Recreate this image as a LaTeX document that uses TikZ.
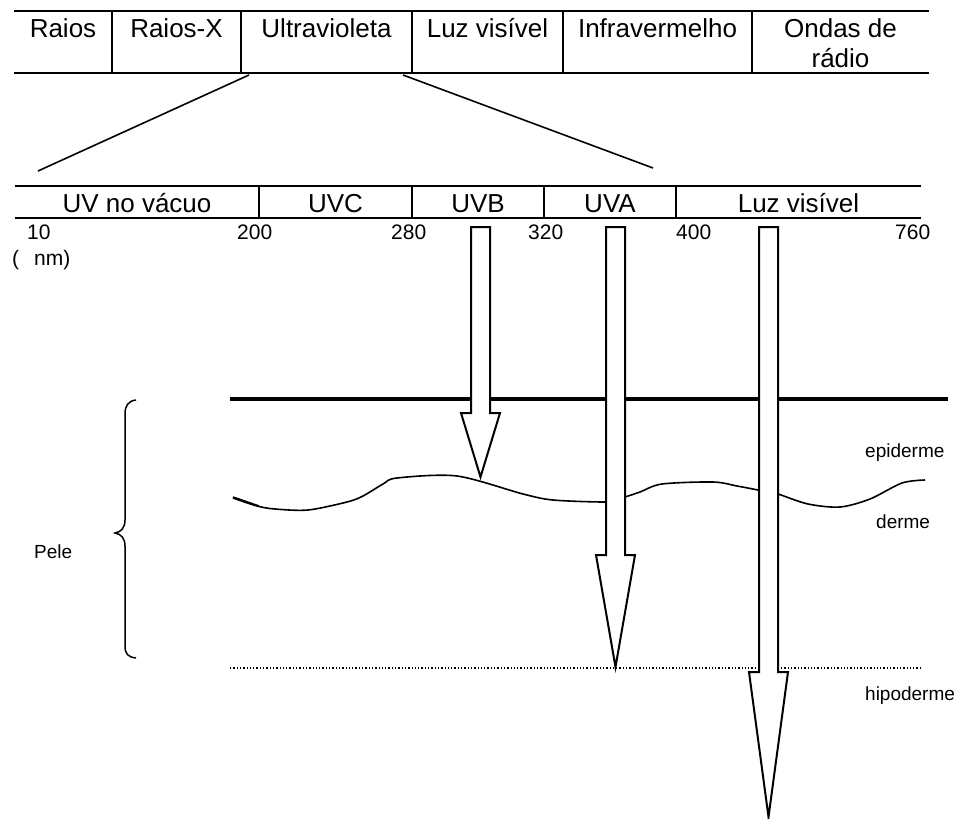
\documentclass[tikz,border=0pt]{standalone}
\usepackage{fontspec}
\setmainfont{Liberation Sans}
\begin{document}
\begin{tikzpicture}[x=1pt,y=-1pt,line join=miter,
  tbl/.style={line width=2.6pt},
  lbl/.style={font=\fontsize{26}{30}\selectfont, anchor=base, inner sep=0pt},
  num/.style={font=\fontsize{21}{25}\selectfont, anchor=base west, inner sep=0pt},
  small/.style={font=\fontsize{19}{23}\selectfont, anchor=base west, inner sep=0pt},
  arr/.style={draw, fill=white, line width=2pt},
  conn/.style={line width=1.6pt}]
\useasboundingbox (0,0) rectangle (969,819);

% top table
\draw[tbl] (14,11) -- (929,11);
\draw[tbl] (14,73) -- (929,73);
\foreach \x in {112,241,412,563,752} \draw[tbl] (\x,11) -- (\x,73);
\node[lbl] (raios) at (63,37) {Raios};
\node[lbl] (raiosx) at (176.5,37) {Raios-X};
\node[lbl] (ultra) at (326.5,37) {Ultravioleta};
\node[lbl] (luz1) at (487.5,37) {Luz visível};
\node[lbl] (infra) at (657.5,37) {Infravermelho};
\node[lbl] (ondas) at (840.5,37) {Ondas de};
\node[lbl] (radio) at (840.5,67) {rádio};

% zoom lines
\coordinate (uvL) at (249,75);
\coordinate (uvR) at (403,75);
\coordinate (sL) at (38,171);
\coordinate (sR) at (653,168);
\draw[conn] (uvL) -- (sL);
\draw[conn] (uvR) -- (sR);

% second table
\draw[tbl] (15,186) -- (921,186);
\draw[tbl] (15,218) -- (921,218);
\foreach \x in {259,412,544,676} \draw[tbl] (\x,186) -- (\x,218);
\node[lbl] (uvnv) at (137,212) {UV no vácuo};
\node[lbl] (uvc) at (335.5,212) {UVC};
\node[lbl] (uvb) at (478,212) {UVB};
\node[lbl] (uva) at (610,212) {UVA};
\node[lbl] (luz2) at (798.5,212) {Luz visível};

% numbers
\node[num] (n10) at (27,239) {10};
\node[num] (n200) at (237,239) {200};
\node[num] (n280) at (391,239) {280};
\node[num] (n320) at (528,239) {320};
\node[num] (n400) at (676,239) {400};
\node[num] (n760) at (895,239) {760};
\node[num] (nm) at (12,265) {(\hspace{15pt}nm)};

% skin
\draw[line width=3.5pt] (230,399) -- (948,399);
\draw[line width=1.6pt] plot[smooth, tension=0.5] coordinates {(233,498) (257,506) (275,509) (308,510) (347,502) (363,496) (383,484) (397,478) (457,476) (523,494) (553,500) (603,502) (614,500) (625,497) (640,492) (662,484) (713,482) (737,486) (758,490) (768,492) (778,494) (808,504) (840,507) (870,499) (902,483) (925,480)};
\draw[line width=1.6pt] (233,497) -- (259,506);
\draw[dotted, line width=1.3pt] (230,668) -- (920,668);

% brace
\draw[line width=1.5pt] (136,400) .. controls (128,401) and (125,406) .. (125,414) -- (125,520) .. controls (125,528) and (121,532) .. (115,533) .. controls (121,534) and (125,538) .. (125,546) -- (125,646) .. controls (125,654) and (128,657) .. (136,658);

% arrows
\draw[arr] (471,227) -- (490,227) -- (490,413) -- (500,413) -- (480.5,477) -- (461,413) -- (471,413) -- cycle;
\draw[arr] (606,227) -- (625,227) -- (625,555) -- (635,555) -- (615.5,667) -- (596,555) -- (606,555) -- cycle;
\draw[arr] (759,227) -- (778,227) -- (778,672) -- (788,672) -- (768.5,817) -- (749,672) -- (759,672) -- cycle;

% labels
\node[small] (epi) at (865,457) {epiderme};
\node[small] (der) at (876,528) {derme};
\node[small] (hipo) at (865,700) {hipoderme};
\node[small] (pele) at (34,558) {Pele};
\end{tikzpicture}
\end{document}
